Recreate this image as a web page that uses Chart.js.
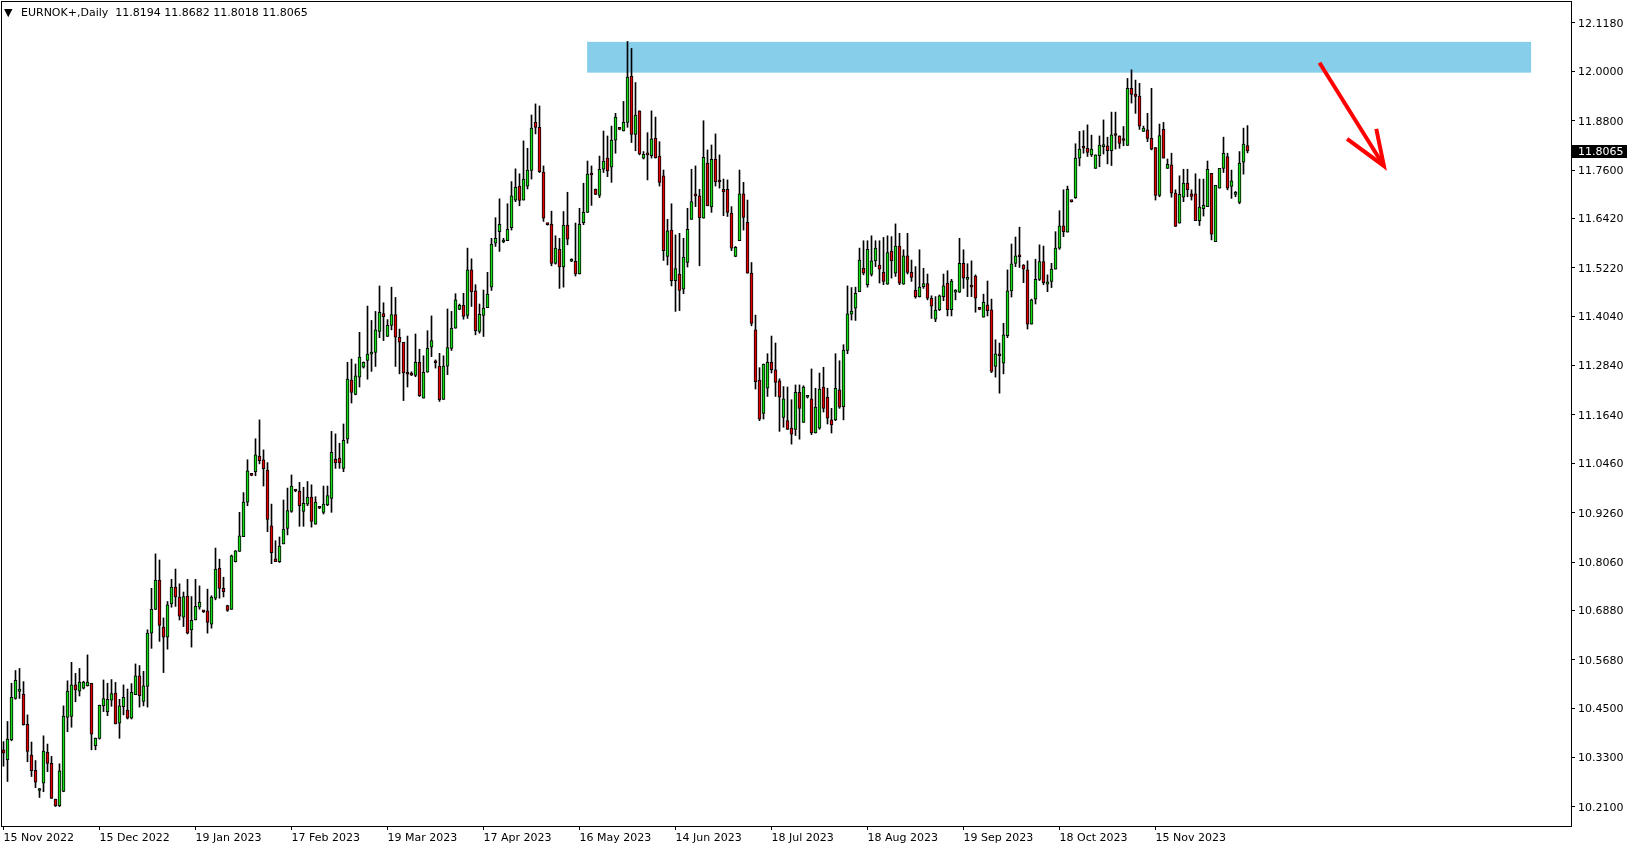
<!DOCTYPE html>
<html>
<head>
<meta charset="utf-8">
<title>EURNOK+ Daily</title>
<script src="https://cdn.jsdelivr.net/npm/chart.js@4.4.0/dist/chart.umd.min.js"></script>
<style>
  html, body { margin: 0; padding: 0; background: #fff; }
  #wrap { position: relative; width: 1635px; height: 850px; }
  #tri { position: absolute; left: 4px; top: 6px; font: 11px "DejaVu Sans", sans-serif; line-height: 14px; }
  #title { position: absolute; left: 21px; top: 6px; font: 11px "DejaVu Sans", sans-serif; line-height: 14px; white-space: pre; color: #000; }
</style>
</head>
<body>
<div id="wrap">
  <canvas id="chart" width="1635" height="850"></canvas>
  <div id="tri">▼</div>
  <div id="title">EURNOK+,Daily  11.8194 11.8682 11.8018 11.8065</div>
</div>
<script>
// daily candles, 15 Nov 2022 -> end of Nov 2023
const opens = [
  10.349, 10.325, 10.373, 10.474, 10.491, 10.484, 10.411, 10.336, 10.299, 10.250,
  10.268, 10.343, 10.316, 10.229, 10.213, 10.248, 10.428, 10.430, 10.507, 10.492,
  10.499, 10.505, 10.511, 10.359, 10.377, 10.456, 10.442, 10.470, 10.487, 10.414,
  10.454, 10.446, 10.426, 10.483, 10.529, 10.467, 10.503, 10.633, 10.691, 10.762,
  10.648, 10.623, 10.704, 10.745, 10.721, 10.672, 10.723, 10.641, 10.665, 10.696,
  10.686, 10.687, 10.655, 10.718, 10.791, 10.742, 10.700, 10.691, 10.807, 10.832,
  10.868, 10.952, 11.018, 11.026, 11.064, 11.055, 11.030, 10.894, 10.814, 10.807,
  10.850, 10.888, 10.929, 10.981, 10.979, 10.929, 10.947, 10.964, 10.898, 10.938,
  10.927, 10.945, 10.961, 11.056, 11.059, 11.034, 11.105, 11.249, 11.214, 11.256,
  11.280, 11.297, 11.312, 11.316, 11.367, 11.411, 11.355, 11.382, 11.408, 11.353,
  11.341, 11.265, 11.262, 11.260, 11.292, 11.205, 11.268, 11.329, 11.292, 11.283,
  11.202, 11.283, 11.326, 11.375, 11.421, 11.431, 11.406, 11.517, 11.466, 11.367,
  11.406, 11.425, 11.475, 11.582, 11.610, 11.585, 11.588, 11.620, 11.687, 11.721,
  11.687, 11.721, 11.759, 11.876, 11.864, 11.755, 11.628, 11.628, 11.533, 11.567,
  11.524, 11.626, 11.538, 11.538, 11.507, 11.632, 11.657, 11.749, 11.713, 11.698,
  11.762, 11.789, 11.767, 11.833, 11.860, 11.855, 11.876, 11.989, 11.847, 11.904,
  11.789, 11.798, 11.795, 11.837, 11.794, 11.746, 11.550, 11.614, 11.491, 11.507,
  11.470, 11.535, 11.640, 11.698, 11.697, 11.643, 11.777, 11.670, 11.787, 11.732,
  11.713, 11.713, 11.655, 11.550, 11.588, 11.702, 11.633, 11.509, 11.371, 11.249,
  11.168, 11.229, 11.292, 11.274, 11.247, 11.158, 11.150, 11.132, 11.129, 11.219,
  11.146, 11.207, 11.203, 11.120, 11.132, 11.232, 11.207, 11.152, 11.152, 11.225,
  11.184, 11.321, 11.409, 11.424, 11.464, 11.521, 11.481, 11.506, 11.539, 11.529,
  11.511, 11.482, 11.563, 11.509, 11.575, 11.482, 11.551, 11.511, 11.467, 11.451,
  11.476, 11.484, 11.448, 11.397, 11.420, 11.452, 11.485, 11.420, 11.463, 11.463,
  11.533, 11.494, 11.480, 11.502, 11.422, 11.402, 11.432, 11.420, 11.282, 11.309,
  11.290, 11.357, 11.466, 11.533, 11.550, 11.529, 11.517, 11.385, 11.446, 11.494,
  11.537, 11.482, 11.489, 11.519, 11.570, 11.624, 11.609, 11.684, 11.693, 11.789,
  11.815, 11.813, 11.797, 11.764, 11.795, 11.817, 11.819, 11.807, 11.845, 11.843,
  11.833, 11.820, 11.959, 11.945, 11.940, 11.854, 11.858, 11.837, 11.815, 11.698,
  11.859, 11.764, 11.773, 11.704, 11.631, 11.694, 11.728, 11.702, 11.702, 11.637,
  11.666, 11.671, 11.752, 11.586, 11.716, 11.764, 11.793, 11.720, 11.701, 11.681,
  11.779, 11.8194
];
const highs = [
  10.369, 10.418, 10.511, 10.542, 10.547, 10.515, 10.434, 10.368, 10.323, 10.255,
  10.383, 10.363, 10.333, 10.229, 10.315, 10.456, 10.517, 10.562, 10.535, 10.547,
  10.516, 10.580, 10.511, 10.378, 10.458, 10.519, 10.511, 10.520, 10.513, 10.472,
  10.507, 10.497, 10.510, 10.558, 10.554, 10.540, 10.641, 10.742, 10.826, 10.811,
  10.670, 10.710, 10.764, 10.789, 10.753, 10.733, 10.764, 10.722, 10.764, 10.748,
  10.688, 10.740, 10.724, 10.840, 10.813, 10.769, 10.701, 10.823, 10.834, 10.927,
  10.975, 11.055, 11.019, 11.106, 11.152, 11.079, 11.048, 10.947, 10.858, 10.867,
  10.957, 10.986, 11.018, 10.983, 11.000, 10.988, 11.002, 10.994, 10.965, 10.939,
  10.991, 10.991, 11.124, 11.118, 11.095, 11.142, 11.292, 11.300, 11.288, 11.365,
  11.293, 11.429, 11.394, 11.416, 11.478, 11.437, 11.396, 11.475, 11.450, 11.373,
  11.341, 11.356, 11.269, 11.361, 11.324, 11.308, 11.369, 11.405, 11.298, 11.314,
  11.308, 11.422, 11.416, 11.459, 11.434, 11.460, 11.570, 11.544, 11.481, 11.434,
  11.468, 11.511, 11.594, 11.644, 11.690, 11.594, 11.678, 11.732, 11.763, 11.751,
  11.831, 11.813, 11.894, 11.921, 11.916, 11.770, 11.630, 11.660, 11.600, 11.594,
  11.659, 11.706, 11.544, 11.631, 11.667, 11.728, 11.782, 11.770, 11.714, 11.794,
  11.855, 11.843, 11.867, 11.898, 11.861, 11.927, 12.073, 12.056, 11.973, 11.904,
  11.805, 11.851, 11.904, 11.889, 11.829, 11.760, 11.640, 11.678, 11.602, 11.606,
  11.594, 11.667, 11.762, 11.770, 11.713, 11.880, 11.809, 11.821, 11.848, 11.797,
  11.738, 11.736, 11.671, 11.574, 11.760, 11.730, 11.687, 11.535, 11.407, 11.279,
  11.288, 11.313, 11.356, 11.339, 11.252, 11.233, 11.232, 11.201, 11.237, 11.237,
  11.235, 11.211, 11.276, 11.229, 11.266, 11.280, 11.229, 11.180, 11.313, 11.296,
  11.335, 11.478, 11.474, 11.475, 11.570, 11.588, 11.588, 11.600, 11.588, 11.588,
  11.596, 11.600, 11.598, 11.629, 11.606, 11.566, 11.606, 11.541, 11.525, 11.566,
  11.521, 11.507, 11.454, 11.452, 11.456, 11.507, 11.515, 11.494, 11.469, 11.594,
  11.566, 11.532, 11.539, 11.505, 11.423, 11.458, 11.490, 11.446, 11.347, 11.339,
  11.387, 11.517, 11.580, 11.597, 11.621, 11.530, 11.539, 11.446, 11.543, 11.578,
  11.575, 11.505, 11.533, 11.610, 11.661, 11.712, 11.721, 11.685, 11.824, 11.854,
  11.856, 11.870, 11.845, 11.797, 11.843, 11.882, 11.840, 11.901, 11.901, 11.843,
  11.866, 11.983, 12.004, 11.979, 11.971, 11.867, 11.898, 11.959, 11.815, 11.872,
  11.876, 11.787, 11.801, 11.712, 11.746, 11.762, 11.762, 11.712, 11.751, 11.738,
  11.738, 11.782, 11.752, 11.723, 11.764, 11.840, 11.801, 11.760, 11.708, 11.805,
  11.862, 11.8682
];
const lows = [
  10.309, 10.272, 10.371, 10.472, 10.474, 10.409, 10.320, 10.284, 10.257, 10.233,
  10.247, 10.296, 10.231, 10.211, 10.211, 10.247, 10.393, 10.404, 10.466, 10.480,
  10.497, 10.504, 10.349, 10.349, 10.375, 10.442, 10.432, 10.455, 10.412, 10.377,
  10.434, 10.424, 10.424, 10.483, 10.453, 10.456, 10.453, 10.596, 10.691, 10.613,
  10.537, 10.594, 10.696, 10.698, 10.665, 10.649, 10.631, 10.599, 10.665, 10.691,
  10.683, 10.633, 10.645, 10.714, 10.718, 10.721, 10.686, 10.691, 10.806, 10.832,
  10.868, 10.943, 11.016, 11.016, 11.045, 10.991, 10.880, 10.802, 10.807, 10.805,
  10.850, 10.872, 10.927, 10.977, 10.893, 10.893, 10.943, 10.891, 10.898, 10.936,
  10.923, 10.943, 10.927, 11.034, 11.034, 11.026, 11.095, 11.193, 11.213, 11.232,
  11.278, 11.251, 11.270, 11.282, 11.352, 11.345, 11.355, 11.371, 11.282, 11.264,
  11.199, 11.232, 11.260, 11.257, 11.209, 11.205, 11.268, 11.306, 11.278, 11.197,
  11.202, 11.262, 11.321, 11.375, 11.420, 11.397, 11.399, 11.428, 11.359, 11.363,
  11.355, 11.425, 11.467, 11.574, 11.562, 11.583, 11.588, 11.614, 11.683, 11.673,
  11.687, 11.714, 11.738, 11.848, 11.754, 11.635, 11.626, 11.527, 11.531, 11.472,
  11.475, 11.578, 11.537, 11.502, 11.507, 11.627, 11.657, 11.674, 11.700, 11.693,
  11.754, 11.744, 11.730, 11.801, 11.858, 11.855, 11.864, 11.827, 11.807, 11.797,
  11.787, 11.736, 11.789, 11.789, 11.721, 11.540, 11.529, 11.478, 11.416, 11.418,
  11.459, 11.524, 11.640, 11.671, 11.527, 11.643, 11.673, 11.657, 11.721, 11.716,
  11.649, 11.647, 11.564, 11.549, 11.588, 11.614, 11.509, 11.381, 11.227, 11.150,
  11.154, 11.209, 11.266, 11.209, 11.124, 11.134, 11.129, 11.093, 11.114, 11.105,
  11.146, 11.205, 11.116, 11.120, 11.129, 11.171, 11.142, 11.120, 11.150, 11.180,
  11.152, 11.313, 11.395, 11.394, 11.464, 11.505, 11.475, 11.502, 11.525, 11.485,
  11.481, 11.482, 11.497, 11.501, 11.481, 11.482, 11.507, 11.489, 11.448, 11.451,
  11.472, 11.444, 11.399, 11.391, 11.418, 11.442, 11.405, 11.405, 11.444, 11.462,
  11.472, 11.452, 11.452, 11.414, 11.420, 11.402, 11.405, 11.267, 11.256, 11.217,
  11.264, 11.352, 11.451, 11.525, 11.523, 11.486, 11.373, 11.385, 11.434, 11.491,
  11.481, 11.464, 11.474, 11.519, 11.567, 11.598, 11.609, 11.682, 11.691, 11.770,
  11.801, 11.793, 11.793, 11.764, 11.768, 11.799, 11.775, 11.771, 11.811, 11.813,
  11.819, 11.820, 11.923, 11.898, 11.859, 11.854, 11.829, 11.809, 11.687, 11.695,
  11.789, 11.764, 11.694, 11.623, 11.631, 11.683, 11.695, 11.687, 11.637, 11.625,
  11.648, 11.671, 11.590, 11.586, 11.716, 11.754, 11.712, 11.691, 11.695, 11.678,
  11.750, 11.8018
];
const closes = [
  10.341, 10.375, 10.477, 10.518, 10.497, 10.410, 10.345, 10.298, 10.270, 10.251,
  10.346, 10.316, 10.231, 10.213, 10.298, 10.431, 10.492, 10.507, 10.495, 10.514,
  10.514, 10.514, 10.387, 10.377, 10.457, 10.474, 10.472, 10.486, 10.412, 10.456,
  10.477, 10.426, 10.489, 10.529, 10.481, 10.505, 10.633, 10.691, 10.762, 10.652,
  10.623, 10.702, 10.745, 10.721, 10.674, 10.722, 10.633, 10.664, 10.698, 10.708,
  10.685, 10.659, 10.721, 10.789, 10.742, 10.734, 10.688, 10.821, 10.833, 10.870,
  10.952, 11.028, 11.017, 11.067, 11.053, 11.033, 10.910, 10.829, 10.807, 10.845,
  10.886, 10.931, 10.991, 10.979, 10.943, 10.949, 10.964, 10.905, 10.952, 10.937,
  10.947, 10.968, 11.073, 11.047, 11.047, 11.102, 11.251, 11.219, 11.259, 11.305,
  11.292, 11.312, 11.317, 11.371, 11.414, 11.403, 11.382, 11.408, 11.353, 11.341,
  11.266, 11.263, 11.261, 11.292, 11.211, 11.268, 11.326, 11.345, 11.291, 11.201,
  11.283, 11.328, 11.375, 11.444, 11.431, 11.404, 11.517, 11.464, 11.369, 11.409,
  11.424, 11.458, 11.580, 11.594, 11.628, 11.586, 11.616, 11.697, 11.718, 11.686,
  11.738, 11.760, 11.862, 11.864, 11.756, 11.643, 11.627, 11.533, 11.570, 11.524,
  11.626, 11.592, 11.543, 11.507, 11.628, 11.657, 11.750, 11.748, 11.701, 11.762,
  11.782, 11.758, 11.833, 11.889, 11.859, 11.876, 11.986, 11.847, 11.894, 11.799,
  11.798, 11.797, 11.836, 11.790, 11.730, 11.564, 11.612, 11.491, 11.520, 11.467,
  11.548, 11.616, 11.683, 11.697, 11.644, 11.791, 11.673, 11.786, 11.732, 11.731,
  11.707, 11.657, 11.570, 11.572, 11.702, 11.645, 11.509, 11.387, 11.245, 11.154,
  11.288, 11.292, 11.274, 11.243, 11.207, 11.203, 11.129, 11.117, 11.219, 11.180,
  11.232, 11.208, 11.120, 11.183, 11.227, 11.180, 11.156, 11.140, 11.229, 11.183,
  11.322, 11.410, 11.417, 11.460, 11.541, 11.509, 11.567, 11.539, 11.570, 11.519,
  11.489, 11.559, 11.539, 11.575, 11.485, 11.551, 11.511, 11.499, 11.451, 11.475,
  11.484, 11.448, 11.429, 11.419, 11.454, 11.478, 11.420, 11.490, 11.468, 11.533,
  11.497, 11.499, 11.475, 11.448, 11.421, 11.438, 11.418, 11.270, 11.313, 11.308,
  11.359, 11.466, 11.532, 11.551, 11.549, 11.519, 11.385, 11.444, 11.494, 11.537,
  11.486, 11.488, 11.519, 11.570, 11.624, 11.610, 11.713, 11.683, 11.789, 11.811,
  11.813, 11.803, 11.811, 11.797, 11.821, 11.821, 11.807, 11.846, 11.844, 11.825,
  11.832, 11.959, 11.944, 11.939, 11.867, 11.862, 11.837, 11.811, 11.698, 11.844,
  11.789, 11.774, 11.704, 11.623, 11.701, 11.728, 11.712, 11.696, 11.637, 11.670,
  11.674, 11.762, 11.604, 11.723, 11.764, 11.801, 11.716, 11.734, 11.701, 11.777,
  11.823, 11.8065
];

// axis ticks as MT4 prints them
const dateTickIndex = [0, 24, 48, 72, 96, 120, 144, 168, 192, 216, 240, 264, 288];
const dateTickLabels = [
  '15 Nov 2022', '15 Dec 2022', '19 Jan 2023', '17 Feb 2023', '19 Mar 2023',
  '17 Apr 2023', '16 May 2023', '14 Jun 2023', '18 Jul 2023', '18 Aug 2023',
  '19 Sep 2023', '18 Oct 2023', '15 Nov 2023'
];
const priceTicks = [
  12.118, 12.000, 11.880, 11.760, 11.642, 11.522, 11.404, 11.284, 11.164,
  11.046, 10.926, 10.806, 10.688, 10.568, 10.450, 10.330, 10.210
];

// resistance zone and the drawn arrow
const zoneFrom = 145.9, zoneTo = 381.9;
const zoneLow = 11.997, zoneHigh = 12.072;
const arrowShaft = [{x: 329.0, y: 12.021}, {x: 345.1, y: 11.770}];
const arrowHead = [{x: 335.9, y: 11.836}, {x: 345.1, y: 11.770}, {x: 343.2, y: 11.860}];

const yMin = 10.1636, yMax = 12.169;
const xMin = -0.375, xMax = 391.875;

const bullColor = '#12dc12';
const bearColor = '#e00000';
const font = { family: 'DejaVu Sans', size: 11 };

const idx = opens.map((_, i) => i);
const wickData = idx.map(i => ({ x: i, y: [lows[i], highs[i]] }));
const bodyData = idx.map(i => ({ x: i, y: [opens[i], closes[i]] }));
const bodyColors = idx.map(i => (closes[i] >= opens[i] ? bullColor : bearColor));
const lastClose = closes[closes.length - 1];

const zonePlugin = {
  id: 'zone',
  beforeDatasetsDraw(chart) {
    const { ctx, scales: { x, y } } = chart;
    const x0 = x.getPixelForValue(zoneFrom), x1 = x.getPixelForValue(zoneTo);
    const y0 = y.getPixelForValue(zoneHigh), y1 = y.getPixelForValue(zoneLow);
    ctx.save();
    ctx.fillStyle = '#87ceeb';
    ctx.fillRect(x0, y0, x1 - x0, y1 - y0);
    ctx.restore();
  }
};

const framePlugin = {
  id: 'frame',
  afterDraw(chart) {
    const { ctx, chartArea: a, scales: { y } } = chart;
    ctx.save();
    ctx.strokeStyle = '#000';
    ctx.lineWidth = 1;
    ctx.strokeRect(a.left - 0.5, a.top - 0.5, a.right - a.left + 1, a.bottom - a.top + 1);
    // last price box on the right axis
    const py = Math.round(y.getPixelForValue(lastClose));
    ctx.fillStyle = '#000';
    ctx.fillRect(a.right + 1, py - 6, 55, 13);
    ctx.fillStyle = '#fff';
    ctx.font = '11px "DejaVu Sans"';
    ctx.textBaseline = 'middle';
    ctx.fillText(lastClose.toFixed(4), a.right + 7, py + 1);
    ctx.restore();
  }
};

new Chart(document.getElementById('chart'), {
  type: 'bar',
  data: {
    datasets: [
      {
        label: 'body',
        data: bodyData,
        backgroundColor: bodyColors,
        borderColor: '#000',
        borderWidth: 1,
        borderSkipped: false,
        barThickness: 3,
        minBarLength: 2,
        grouped: false,
        order: 1
      },
      {
        label: 'wick',
        data: wickData,
        backgroundColor: '#000',
        borderWidth: 0,
        barThickness: 1,
        minBarLength: 1,
        grouped: false,
        order: 2
      },
      {
        type: 'line',
        label: 'arrow',
        data: arrowShaft,
        borderColor: '#ff0000',
        borderWidth: 4,
        pointRadius: 0,
        order: 0
      },
      {
        type: 'line',
        label: 'arrowHead',
        data: arrowHead,
        borderColor: '#ff0000',
        borderWidth: 4,
        pointRadius: 0,
        order: 0
      }
    ]
  },
  options: {
    responsive: false,
    animation: false,
    devicePixelRatio: 1,
    layout: { padding: { left: 2, top: 2, right: 0, bottom: 0 } },
    plugins: { legend: { display: false }, tooltip: { enabled: false } },
    scales: {
      x: {
        type: 'linear',
        min: xMin,
        max: xMax,
        offset: false,
        afterBuildTicks: s => { s.ticks = dateTickIndex.map(v => ({ value: v })); },
        afterFit: s => { s.height = 24; s.paddingLeft = 0; s.paddingRight = 0; },
        grid: { drawOnChartArea: false, drawTicks: true, tickLength: 4, color: '#000', offset: false },
        border: { display: false },
        ticks: {
          autoSkip: false,
          maxRotation: 0,
          align: 'start',
          padding: 2,
          color: '#000',
          font: font,
          callback: v => dateTickLabels[dateTickIndex.indexOf(v)]
        }
      },
      y: {
        type: 'linear',
        position: 'right',
        min: yMin,
        max: yMax,
        afterBuildTicks: s => { s.ticks = priceTicks.map(v => ({ value: v })); },
        afterFit: s => { s.width = 64; s.paddingTop = 0; s.paddingBottom = 0; },
        grid: { drawOnChartArea: false, drawTicks: true, tickLength: 4, color: '#000' },
        border: { display: false },
        ticks: {
          autoSkip: false,
          padding: 3,
          labelOffset: 1,
          color: '#000',
          font: font,
          callback: v => v.toFixed(4)
        }
      }
    }
  },
  plugins: [zonePlugin, framePlugin]
});
</script>
</body>
</html>
